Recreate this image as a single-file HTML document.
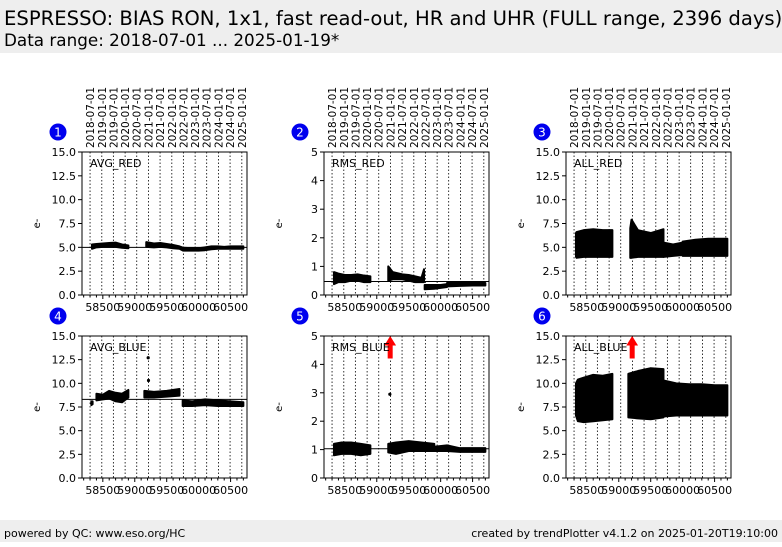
<!DOCTYPE html>
<html><head><meta charset="utf-8">
<style>
body{margin:0;width:782px;height:542px;background:#fff;overflow:hidden;font-family:"Liberation Sans","DejaVu Sans",sans-serif;}
svg text{font-family:"DejaVu Sans","Liberation Sans",sans-serif;}
</style></head>
<body>
<svg id="c" width="782" height="542" xmlns="http://www.w3.org/2000/svg">
<rect x="0" y="0" width="782" height="53" fill="#eeeeee"/>
<text x="4" y="25" font-size="19.6">ESPRESSO: BIAS RON, 1x1, fast read-out, HR and UHR (FULL range, 2396 days)</text>
<text x="4" y="46" font-size="16.8">Data range: 2018-07-01 ... 2025-01-19*</text>
<rect x="0" y="520" width="782" height="22" fill="#eeeeee"/>
<text x="4" y="537" font-size="11">powered by QC: www.eso.org/HC</text>
<text x="778" y="537" font-size="11" text-anchor="end">created by trendPlotter v4.1.2 on 2025-01-20T19:10:00</text>
<g id="plots"></g>
</svg>
<script>
const dateLabels=["2018-07-01","2019-01-01","2019-07-01","2020-01-01","2020-07-01","2021-01-01","2021-07-01","2022-01-01","2022-07-01","2023-01-01","2023-07-01","2024-01-01","2024-07-01","2025-01-01"];
const dateMjd=[58300,58484,58665,58849,59031,59215,59396,59580,59761,59945,60126,60310,60492,60676];
const xTicks=[58500,59000,59500,60000,60500];
const panelNames=["AVG_RED","RMS_RED","ALL_RED","AVG_BLUE","RMS_BLUE","ALL_BLUE"];
const panelYMax=[15,5,15,15,5,15];
const refLines=[5.0,0.47,null,8.3,1.03,null];
const p1Mjd=[[58330,58400,58500,58600,58700,58800,58900],[59180,59300,59400,59500,59600,59700,59760,59900,60000,60100,60200,60300,60400,60500,60600,60700]];
const p1Lo=[[4.85,5.0,5.05,5.05,5.05,4.95,4.9],[5.05,5.0,5.05,5.0,4.9,4.85,4.65,4.65,4.65,4.7,4.8,4.85,4.85,4.85,4.85,4.85]];
const p1Hi=[[5.3,5.35,5.4,5.45,5.5,5.3,5.2],[5.55,5.4,5.45,5.35,5.25,5.1,4.95,4.9,4.9,5.0,5.1,5.1,5.05,5.1,5.1,5.1]];
const p2Mjd=[[58330,58400,58500,58600,58700,58800,58900],[59180,59250,59400,59500,59600,59700,59740],[59750,59900,60000,60100],[60100,60300,60500,60700]];
const p2Lo=[[0.38,0.45,0.45,0.5,0.5,0.45,0.45],[0.5,0.55,0.55,0.5,0.45,0.45,0.45],[0.2,0.22,0.25,0.28],[0.3,0.32,0.33,0.33]];
const p2Hi=[[0.8,0.75,0.7,0.7,0.72,0.68,0.65],[1.0,0.8,0.72,0.7,0.65,0.6,0.9],[0.35,0.35,0.35,0.38],[0.42,0.42,0.42,0.42]];
const p3Mjd=[[58330,58340,58450,58600,58750,58900],[59180,59200,59300,59500,59700],[59700,59850,60000],[60000,60200,60400,60700]];
const p3Lo=[[4.0,3.9,4.0,4.0,4.0,4.0],[3.9,3.9,4.0,4.0,4.0],[4.0,4.1,4.2],[4.1,4.1,4.1,4.1]];
const p3Hi=[[6.5,6.6,6.8,6.9,6.8,6.8],[7.0,7.9,6.8,6.5,6.9],[5.5,5.3,5.5],[5.6,5.8,5.9,5.9]];
const p4Mjd=[[58320,58340],[58400,58500,58600,58700,58800,58900],[59150,59300,59500,59700],[59750,59900,60100,60300,60500,60700]];
const p4Lo=[[7.7,7.8],[8.2,8.3,8.4,8.1,8.0,8.5],[8.5,8.5,8.6,8.7],[7.6,7.6,7.7,7.6,7.6,7.6]];
const p4Hi=[[8.1,8.1],[8.9,8.8,9.2,9.0,8.9,9.3],[9.2,9.1,9.2,9.4],[8.2,8.1,8.3,8.2,8.1,8.0]];
const p5Mjd=[[58330,58450,58600,58750,58900],[59180,59300,59500,59700,59900],[59900,60100,60300,60500,60700]];
const p5Lo=[[0.8,0.85,0.85,0.8,0.85],[0.9,0.85,0.95,0.95,0.95],[0.95,0.95,0.92,0.92,0.92]];
const p5Hi=[[1.2,1.25,1.25,1.2,1.15],[1.2,1.25,1.3,1.25,1.2],[1.1,1.15,1.05,1.05,1.05]];
const p6Mjd=[[58330,58360,58450,58600,58750,58900],[59150,59300,59500,59700],[59700,59900,60100,60300,60500,60700]];
const p6Lo=[[6.6,6.0,5.9,6.0,6.1,6.2],[6.4,6.3,6.2,6.4],[6.5,6.6,6.6,6.6,6.6,6.6]];
const p6Hi=[[10.0,10.4,10.6,10.9,10.8,11.0],[11.0,11.3,11.6,11.5],[10.3,10.0,9.9,9.9,9.8,9.8]];
const bands=[[p1Mjd,p1Lo,p1Hi],[p2Mjd,p2Lo,p2Hi],[p3Mjd,p3Lo,p3Hi],[p4Mjd,p4Lo,p4Hi],[p5Mjd,p5Lo,p5Hi],[p6Mjd,p6Lo,p6Hi]];
const outMjd=[[],[],[],[59210,59215],[59205],[]];
const outVal=[[],[],[],[12.7,10.3],[2.95],[]];
const arrowMjd=[null,null,null,null,59210,59210];

const NS="http://www.w3.org/2000/svg";
const root=document.getElementById('plots');
function mk(t,a,p){const e=document.createElementNS(NS,t);for(const k in a)e.setAttribute(k,a[k]);(p||root).appendChild(e);return e;}
const lefts=[82,324,566], tops=[152,336], W=165, H=[143,142];
const xMin=58174, xMax=60757;
for(let i=0;i<6;i++){
  const col=i%3,row=Math.floor(i/3);
  const L=lefts[col],T=tops[row],h=H[row],ymax=panelYMax[i];
  const X=m=>L+(m-xMin)/(xMax-xMin)*W;
  const Y=v=>T+h-(Math.min(v,ymax))/ymax*h;
  const g=mk('g',{});
  
  
  dateMjd.forEach(m=>{const l=mk('line',{x1:X(m),x2:X(m),y1:T,y2:T+h,stroke:'#000','stroke-width':0.8,'stroke-dasharray':'1.5,2'},g);});
  if(row===0){
    dateLabels.forEach((d,k)=>{const t=mk('text',{x:0,y:0,'font-size':10.5,transform:`translate(${X(dateMjd[k])+4},148) rotate(-90)`},g);t.textContent=d;});
  }
  const [ms,lo,hi]=bands[i];
  ms.forEach((seg,s)=>{
    let pts=seg.map((m,k)=>X(m)+','+Y(hi[s][k]));
    for(let k=seg.length-1;k>=0;k--)pts.push(X(seg[k])+','+Y(lo[s][k]));
    const p=mk('polygon',{points:pts.join(' '),fill:'#000',stroke:'#000','stroke-width':2,'stroke-linejoin':'round'},g);
    
    
  });
  outMjd[i].forEach((m,k)=>{const c=mk('circle',{cx:X(m),cy:Y(outVal[i][k]),r:1.6,fill:'#000'},g);});
  if(refLines[i]!==null){const l=mk('line',{x1:L,x2:L+W,y1:Y(refLines[i]),y2:Y(refLines[i]),stroke:'#000','stroke-width':1},g);}
  if(arrowMjd[i]!==null){const ax=X(arrowMjd[i]);const a=mk('path',{d:`M${ax-2},${T+22} L${ax+2},${T+22} L${ax+2},${T+9} L${ax+5},${T+9} L${ax},${T+1} L${ax-5},${T+9} L${ax-2},${T+9} Z`,fill:'#f00',stroke:'#f00','stroke-width':1},g);}
  const f=mk('rect',{x:L,y:T,width:W,height:h,fill:'none',stroke:'#000','stroke-width':1},g);
  
  const step=ymax===15?2.5:1;
  for(let v=0;v<=ymax+1e-9;v+=step){
    mk('line',{x1:L-4,x2:L,y1:Y(v),y2:Y(v),stroke:'#000'},g);
    const t=mk('text',{x:L-6,y:Y(v)+4,'font-size':11,'text-anchor':'end'},g);
    t.textContent=ymax===15?v.toFixed(1):String(v);
    
  }
  for(let m=58200;m<=60700;m+=100){mk('line',{x1:X(m),x2:X(m),y1:T+h,y2:T+h+(m%500===0?4:2.5),stroke:'#000'},g);}
  xTicks.forEach(m=>{const t=mk('text',{x:X(m),y:T+h+16,'font-size':11,'text-anchor':'middle'},g);t.textContent=String(m);});
  const yl=mk('text',{x:0,y:0,'font-size':10,'text-anchor':'middle',transform:`translate(${L-42},${T+h/2}) rotate(-90)`},g);
  yl.textContent='e-';
  const nm=mk('text',{x:L+8,y:T+15,'font-size':11},g);nm.textContent=panelNames[i];
  
  const cx=L-24,cy=T-20;
  const c=mk('circle',{cx:cx,cy:cy,r:8.5,fill:'#0000ee'},g);
  
  const bt=mk('text',{x:cx,y:cy+4.5,'font-size':12,'text-anchor':'middle',fill:'#fff'},g);bt.textContent=String(i+1);
  
}
</script>
</body></html>
